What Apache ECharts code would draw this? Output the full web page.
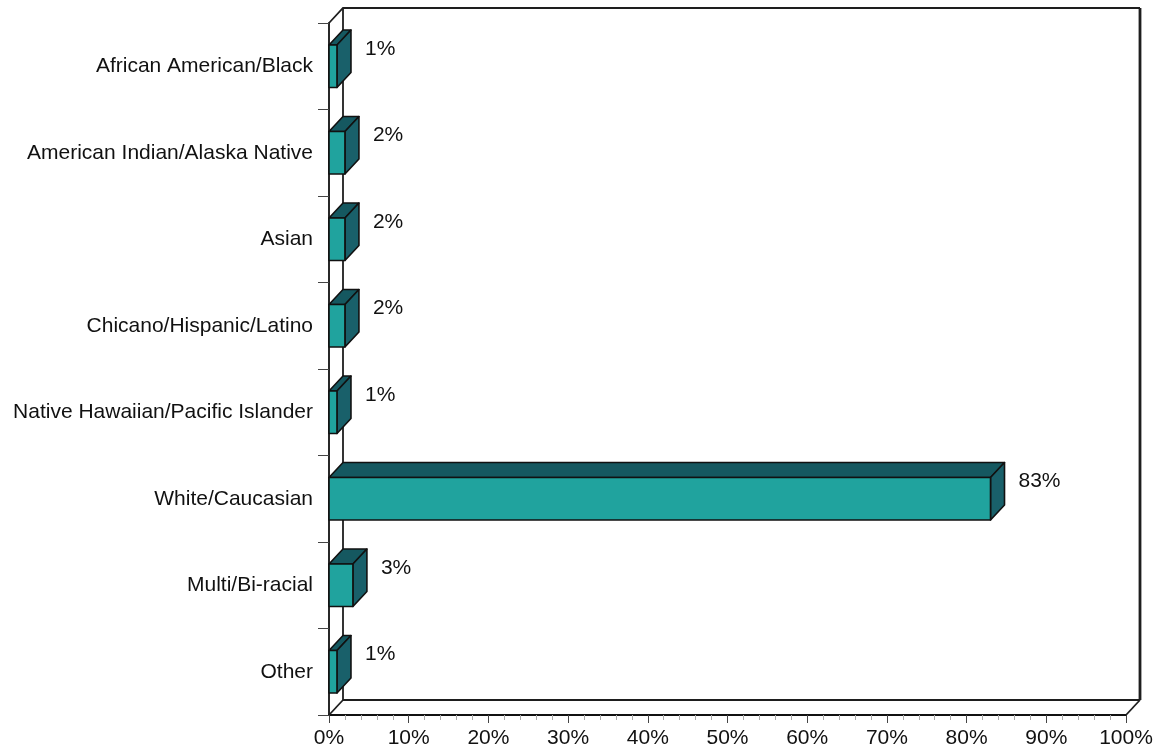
<!DOCTYPE html>
<html>
<head>
<meta charset="utf-8">
<script src="https://cdn.jsdelivr.net/npm/echarts@6/dist/echarts.min.js"></script>
<style>
  html, body { margin: 0; padding: 0; background: #fff; }
  #chart { width: 1164px; height: 751px; }
</style>
</head>
<body>
<div id="chart"></div>
<script>
// Respondents by race / ethnicity (percent)
const categories = [
  'African American/Black',
  'American Indian/Alaska Native',
  'Asian',
  'Chicano/Hispanic/Latino',
  'Native Hawaiian/Pacific Islander',
  'White/Caucasian',
  'Multi/Bi-racial',
  'Other'
];
const percents = [1, 2, 2, 2, 1, 83, 3, 1];
const xTicks = { min: 0, max: 100, step: 10 };

// depth offset used for the pseudo-3D look
const DX = 14, DY = -15;
const FONT = '"Liberation Sans", Arial, Helvetica, sans-serif';
const FS = 21;
const FRONT = '#20a39e', TOP = '#155860', SIDE = '#19606a', EDGE = '#111';

const chart = echarts.init(document.getElementById('chart'), null, { renderer: 'canvas' });

function renderFrame(params, api) {
  const cs = params.coordSys;
  const x0 = cs.x, x1 = cs.x + cs.width, y0 = cs.y, y1 = cs.y + cs.height;
  const line = (pts, w) => ({
    type: 'polyline',
    shape: { points: pts },
    style: { stroke: '#1e1e1e', lineWidth: w || 1.8, fill: null }
  });
  return {
    type: 'group',
    children: [
      line([[x0, y0], [x0 + DX, y0 + DY], [x1 + DX, y0 + DY]]),
      line([[x0 + DX, y0 + DY], [x0 + DX, y1 + DY], [x1 + DX, y1 + DY]]),
      line([[x1 + DX, y0 + DY], [x1 + DX, y1 + DY]], 2.8),
      line([[x0, y1], [x0 + DX, y1 + DY]]),
      line([[x1, y1], [x1 + DX, y1 + DY]])
    ]
  };
}

function renderBar(params, api) {
  const idx = api.value(0);
  const val = api.value(1);
  const p0 = api.coord([0, idx]);
  const p1 = api.coord([val, idx]);
  const band = api.size([0, 1])[1];
  const h = band * 0.49;
  const xa = p0[0], xb = p1[0];
  const yt = p0[1] - h / 2, yb = p0[1] + h / 2;
  const st = { stroke: EDGE, lineWidth: 1.6, lineJoin: 'round' };
  return {
    type: 'group',
    children: [
      { type: 'polygon', shape: { points: [[xa, yt], [xb, yt], [xb + DX, yt + DY], [xa + DX, yt + DY]] },
        style: Object.assign({ fill: TOP }, st) },
      { type: 'polygon', shape: { points: [[xb, yt], [xb + DX, yt + DY], [xb + DX, yb + DY], [xb, yb]] },
        style: Object.assign({ fill: SIDE }, st) },
      { type: 'rect', shape: { x: xa, y: yt, width: xb - xa, height: yb - yt },
        style: Object.assign({ fill: FRONT }, st) },
      { type: 'text',
        style: { x: xb + DX + 14, y: p0[1] - band * 0.2, text: val + '%',
                 fill: '#111', font: FS + 'px ' + FONT, align: 'left', verticalAlign: 'middle' } }
    ]
  };
}

chart.setOption({
  animation: false,
  backgroundColor: '#fff',
  grid: { left: 329, right: 38, top: 23, bottom: 36, containLabel: false },
  xAxis: {
    type: 'value',
    min: xTicks.min, max: xTicks.max, interval: xTicks.step,
    axisLine: { show: true, lineStyle: { color: '#111', width: 1.8 } },
    axisTick: { show: true, length: 8, lineStyle: { color: '#444', width: 1 } },
    minorTick: { show: true, splitNumber: 5, length: 5, lineStyle: { color: '#aaa', width: 1 } },
    splitLine: { show: false },
    axisLabel: { formatter: '{value}%', color: '#111', fontSize: FS, fontFamily: FONT, margin: 13 }
  },
  yAxis: {
    type: 'category',
    inverse: true,
    data: categories,
    axisLine: { show: true, lineStyle: { color: '#111', width: 1.8 } },
    axisTick: { show: true, length: 11, lineStyle: { color: '#444', width: 1 } },
    axisLabel: { color: '#111', fontSize: FS, fontFamily: FONT, margin: 16 }
  },
  series: [
    {
      type: 'custom',
      name: 'frame',
      renderItem: renderFrame,
      data: [[0, 0]],
      encode: { x: 0, y: 1 },
      silent: true,
      z: 1
    },
    {
      type: 'custom',
      name: 'share',
      renderItem: renderBar,
      data: percents.map((v, i) => [i, v]),
      encode: { y: 0, x: 1 },
      z: 5
    }
  ]
});
</script>
</body>
</html>
